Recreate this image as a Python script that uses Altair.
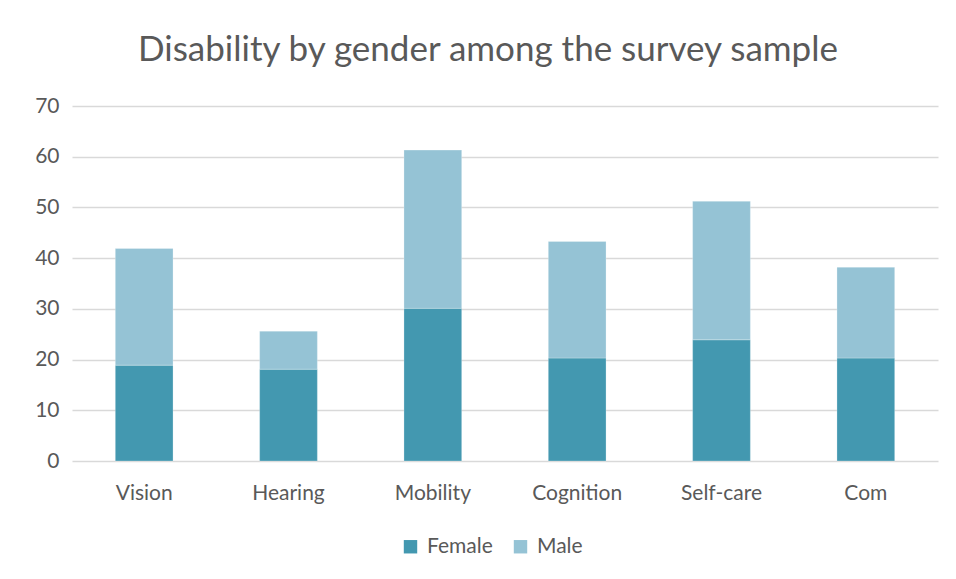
import altair as alt
import pandas as pd

categories = ["Vision", "Hearing", "Mobility", "Cognition", "Self-care", "Com"]
female = [18.9, 18.1, 30.1, 20.3, 23.9, 20.3]
male = [23.0, 7.5, 31.2, 23.0, 27.3, 17.9]
series = ["Female", "Male"]
colors = ["#4398B0", "#95C3D5"]

rows = []
for c, f, m in zip(categories, female, male):
    rows.append({"cat": c, "gender": "Female", "value": f, "ord": 0})
    rows.append({"cat": c, "gender": "Male", "value": m, "ord": 1})
df = pd.DataFrame(rows)

FONT = "Lato"
GREY = "#595959"

chart = alt.Chart(df).mark_bar(stroke="white", strokeWidth=0.5, strokeOpacity=0.5).encode(
    x=alt.X("cat:N", sort=categories, title=None,
            scale=alt.Scale(paddingInner=0.6, paddingOuter=0.3),
            axis=alt.Axis(labelAngle=0, domain=False, ticks=False, labelPadding=21,
                          labelFontSize=21, labelColor=GREY, labelFont=FONT)),
    y=alt.Y("value:Q", stack="zero", title=None,
            scale=alt.Scale(domain=[0, 70]),
            axis=alt.Axis(values=[0, 10, 20, 30, 40, 50, 60, 70], domain=False, ticks=False,
                          labelPadding=13, labelFontSize=21, labelColor=GREY, labelFont=FONT,
                          gridColor="#d9d9d9", gridWidth=1.5)),
    color=alt.Color("gender:N", sort=series,
                    scale=alt.Scale(domain=series, range=colors),
                    legend=alt.Legend(title=None, orient="none", direction="horizontal",
                                      legendX=328, legendY=430, symbolType="square",
                                      symbolSize=180, symbolStrokeWidth=0, labelFontSize=21,
                                      labelColor=GREY, labelFont=FONT, columnPadding=17,
                                      labelOffset=6)),
    order=alt.Order("ord:Q"),
).properties(
    width=866,
    height=355,
    background="white",
    title=alt.TitleParams("Disability by gender among the survey sample", fontSize=35,
                          font=FONT, fontWeight="normal", color=GREY, anchor="middle",
                          dx=-17, offset=27),
    autosize=alt.AutoSizeParams(type="none"),
    padding={"left": 72, "top": 106, "right": 18, "bottom": 118},
).configure_view(stroke=None)

chart.save("out.html", embed_options={"renderer": "svg", "actions": False})
